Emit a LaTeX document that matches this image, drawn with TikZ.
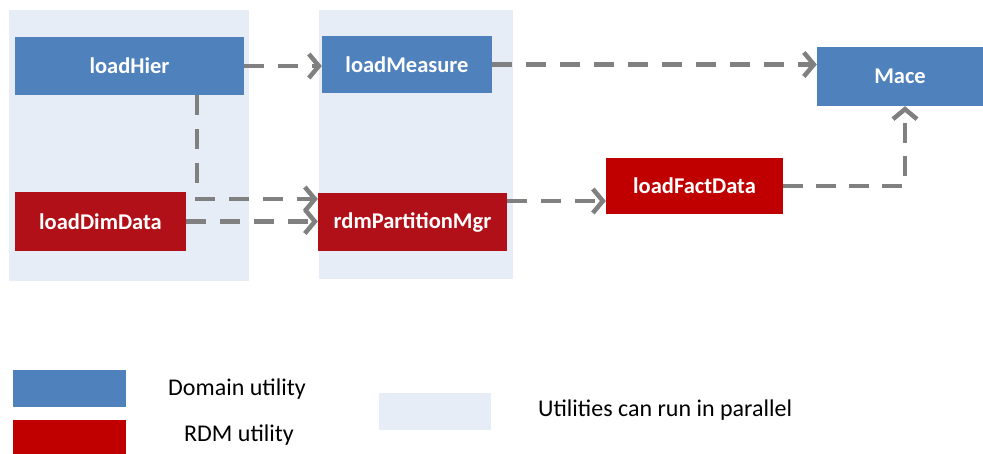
\documentclass[tikz,border=0pt]{standalone}
\usepackage{fontspec}
\setmainfont{Carlito}
\usetikzlibrary{arrows.meta}
\definecolor{domblue}{RGB}{79,129,189}
\definecolor{rdmred}{RGB}{192,0,0}
\definecolor{rdmdark}{RGB}{178,16,24}
\definecolor{parbg}{RGB}{231,237,246}
\definecolor{flowgray}{RGB}{128,128,128}
\tikzset{
  box/.style={rectangle, inner sep=0pt, text=white, font=\fontsize{22.5}{26}\selectfont\bfseries},
  flow/.style={draw=flowgray, line width=4.5pt, dash pattern=on 20pt off 14pt,
    -{Straight Barb[length=10pt,width=24pt]}},
  legtext/.style={font=\fontsize{24}{27}\selectfont, text=black, inner sep=0pt}
}
\begin{document}
\begin{tikzpicture}[x=1pt,y=-1pt]
\useasboundingbox (0,0) rectangle (983,454);
% parallel backgrounds
\fill[parbg] (9,10) rectangle (249,281);
\fill[parbg] (319,10) rectangle (513,279);
% nodes
\node[box, fill=domblue, minimum width=229pt, minimum height=58pt] (hier) at (129.5,66) {loadHier};
\node[box, fill=domblue, minimum width=170pt, minimum height=57pt] (measure) at (407,64.5) {loadMeasure};
\node[box, fill=rdmdark, minimum width=171pt, minimum height=59pt] (dim) at (100.5,221.5) {loadDimData};
\node[box, fill=rdmdark, minimum width=189pt, minimum height=58pt] (part) at (412.5,222) {rdmPartitionMgr};
\node[box, fill=rdmred, minimum width=177pt, minimum height=56pt] (fact) at (694.5,186) {loadFactData};
\node[box, fill=domblue, minimum width=166pt, minimum height=59pt] (mace) at (900,76.5) {Mace};
% connectors
\coordinate (hdrop) at (197,199);
\coordinate (pf) at (507,201);
\coordinate (fm) at (905,186);
\draw[flow] (hier.east) -- (hier.east -| measure.west);
\draw[flow] (measure.east) -- (measure.east -| mace.west);
\draw[flow] (hier.south -| hdrop) -- (hdrop) -- (hdrop -| part.west);
\draw[flow] (dim.east) -- (dim.east -| part.west);
\draw[flow] (pf) -- (pf -| fact.west);
\draw[flow, dash pattern=on 20pt off 13pt] (fact.east) -- (fm) -- (fm |- mace.south);
% legend
\node[fill=domblue, minimum width=113pt, minimum height=37pt, inner sep=0pt] (lgblue) at (69.5,388.5) {};
\node[fill=rdmred, minimum width=113pt, minimum height=34pt, inner sep=0pt] (lgred) at (69.5,437) {};
\node[fill=parbg, minimum width=112pt, minimum height=37pt, inner sep=0pt] (lgpar) at (435,411.5) {};
\node[legtext] (tdom) at (237,389) {Domain utility};
\node[legtext] (trdm) at (239,435) {RDM utility};
\node[legtext, anchor=west] (tpar) at (538,410) {Utilities can run in parallel};
\end{tikzpicture}
\end{document}
